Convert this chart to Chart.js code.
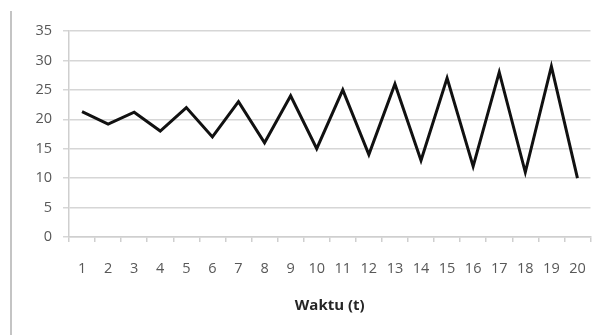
<!DOCTYPE html>
<html lang="id">
  <head>
    <meta charset="UTF-8" />
    <title>Waktu (t)</title>
    <script src="https://cdn.jsdelivr.net/npm/chart.js"></script>
    <style>
      html, body { margin: 0; padding: 0; background: #fff; }
      #wrap { position: relative; width: 604px; height: 335px; }
      #frame { position: absolute; left: 10px; top: 11px; width: 2px; height: 324px; background: #c4c4c4; }
    </style>
  </head>
  <body>
    <div id="wrap">
      <div id="frame"></div>
      <canvas id="chart" width="604" height="335"></canvas>
    </div>

    <script>
      // x categories (waktu t)
      const categories = ["1", "2", "3", "4", "5", "6", "7", "8", "9", "10",
                          "11", "12", "13", "14", "15", "16", "17", "18", "19", "20"];
      // values
      const values = [21.3, 19.2, 21.2, 18, 22, 17, 23, 16, 24, 15,
                      25, 14, 26, 13, 27, 12, 28, 11, 29, 10];
      const yMin = 0;
      const yMax = 35;
      const yStep = 5;

      const font = "'Open Sans', 'DejaVu Sans', sans-serif";

      new Chart(document.getElementById("chart"), {
        type: "line",
        data: {
          labels: categories,
          datasets: [{
            data: values,
            borderColor: "#111",
            borderWidth: 3,
            borderJoinStyle: "miter",
            pointRadius: 0,
            tension: 0,
            fill: false
          }]
        },
        options: {
          responsive: false,
          animation: false,
          layout: { padding: { top: 31, right: 10, bottom: 0, left: 0 } },
          plugins: { legend: { display: false }, tooltip: { enabled: false } },
          scales: {
            x: {
              offset: true,
              grid: {
                offset: true,
                drawOnChartArea: false,
                drawTicks: true,
                tickLength: 5,
                color: "#cfcfcf",
                lineWidth: 1.5
              },
              border: { color: "#cfcfcf", width: 1.5 },
              ticks: {
                color: "#585858",
                font: { family: font, size: 14.5 },
                padding: 18,
                maxRotation: 0,
                autoSkip: false
              },
              title: {
                display: true,
                text: "Waktu (t)",
                color: "#262626",
                font: { family: font, size: 15, weight: "bold" },
                padding: { top: 0, bottom: 20 }
              },
              afterFit: (scale) => { scale.height = 98; }
            },
            y: {
              min: yMin,
              max: yMax,
              grid: {
                color: "#d6d6d6",
                lineWidth: 1.5,
                drawTicks: true,
                tickLength: 6
              },
              border: { color: "#cfcfcf", width: 1.5 },
              ticks: {
                stepSize: yStep,
                color: "#585858",
                font: { family: font, size: 14.5 },
                padding: 11
              },
              afterFit: (scale) => { scale.width = 69; }
            }
          }
        }
      });
    </script>
  </body>
</html>
